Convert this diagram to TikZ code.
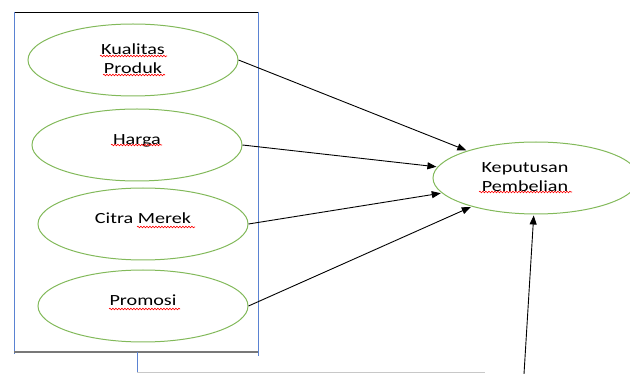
\documentclass[tikz,border=0pt]{standalone}
\usepackage{fontspec}
\setmainfont{Carlito}[FakeStretch=1.3]
\usepackage{tikz}
\usetikzlibrary{arrows.meta,shapes,decorations.pathmorphing}
\definecolor{var_green}{RGB}{130,185,90}
\definecolor{box_blue}{RGB}{90,130,210}
\definecolor{box_gray}{RGB}{120,120,120}
\definecolor{fb_gray}{RGB}{200,200,200}

\begin{document}
\begin{tikzpicture}[->,semithick,>={Triangle[length=9pt,width=7pt]},x=1pt,y=-1pt]
    \tikzstyle{var}=[draw=var_green, ellipse, line width=1pt, minimum width=210pt, minimum height=72pt,
                     text=black, align=center, font=\fontsize{15.5}{19}\selectfont,
                     text height=0pt, text depth=0pt]
    \tikzstyle{var2}=[style=var, text height=28pt]
    \tikzstyle{link}=[line width=0.9pt, black, shorten >=1pt]
    \tikzstyle{typo}=[-, red, line width=0.6pt, decorate, decoration={snake,segment length=3pt,amplitude=0.8pt}]

    \useasboundingbox (0,0) rectangle (630,374);

    % box round the four variables
    \draw[-,line width=0.9pt] (14,12) -- (258,12);
    \draw[-,line width=1pt,box_blue] (14,12) -- (14,354);
    \draw[-,line width=1pt,box_blue] (258,12) -- (258,356);
    \draw[-,line width=1.2pt,box_gray] (14,352) -- (258,352);

    \node[var2] (kp)  at (133,60)  {Kualitas\\Produk};
    \node[var]  (hrg) at (137,145) {Harga};
    \node[var]  (cm)  at (143,224) {Citra Merek};
    \node[var]  (pro) at (143,306) {Promosi};
    \node[var2,minimum width=206pt] (kep) at (536,178) {Keputusan\hspace*{22pt}\\Pembelian\hspace*{22pt}};

    % spelling marks under the words
    \draw[typo] (100,56)  -- (167,56);
    \draw[typo] (103,75)  -- (165,75);
    \draw[typo] (111,145) -- (162,145);
    \draw[typo] (137,227) -- (195,227);
    \draw[typo] (109,309) -- (180,309);
    \draw[typo] (479,192) -- (572,192);

    \coordinate (fbtop)    at (137,352);
    \coordinate (fbcorner) at (137,373);
    \coordinate (fbend)    at (485,373);
    \coordinate (fbsrc)    at (524,374);

    \draw[link] (kp.east)  -- (kep);
    \draw[link] (hrg.east) -- (kep);
    \draw[link] (cm.east)  -- (kep);
    \draw[link] (pro.east) -- (kep);

    \draw[-,line width=1pt,box_blue] (fbtop) -- (fbcorner);
    \draw[-,line width=1pt,fb_gray] (fbcorner) -- (fbend);
    \draw[link] (fbsrc) -- (kep);
\end{tikzpicture}
\end{document}
